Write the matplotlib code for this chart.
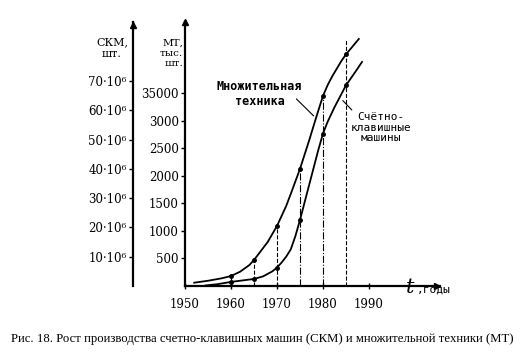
import matplotlib
matplotlib.use("Agg")
import matplotlib.pyplot as plt

# Множительная техника (МТ), тыс. шт.
mt_years = [1952, 1955, 1958, 1960, 1962, 1964, 1965, 1966, 1968, 1970, 1972, 1973,
            1975, 1977, 1978.5, 1980, 1981, 1982, 1984, 1985, 1986.5, 1987.8]
mt_values = [60, 95, 140, 181, 260, 380, 472, 580, 800, 1088, 1450, 1670,
             2122, 2640, 3050, 3446, 3640, 3800, 4080, 4200, 4350, 4480]

# Счётно-клавишные машины (СКМ), шт.
skm_years = [1954.5, 1957, 1960, 1962.5, 1965, 1967, 1969, 1970, 1971, 1972, 1973, 1974,
             1975, 1976, 1977, 1978, 1979, 1980, 1981, 1982.5, 1984, 1985, 1987, 1988.5]
skm_values = [0.2e6, 0.6e6, 1.4e6, 1.9e6, 2.4e6, 3.3e6, 5.0e6, 6.3e6, 8e6, 10e6, 12.5e6, 17e6,
              22.5e6, 28.5e6, 34.5e6, 40.5e6, 46.5e6, 52e6, 56e6, 61e6, 65.5e6, 68.5e6, 73e6, 76.5e6]

# markers every five years
mt_mark_years = [1960, 1965, 1970, 1975, 1980, 1985]
mt_mark_values = [181, 472, 1088, 2122, 3446, 4200]
skm_mark_years = [1960, 1965, 1970, 1975, 1980, 1985]
skm_mark_values = [1.4e6, 2.4e6, 6.3e6, 22.5e6, 52e6, 68.5e6]

# vertical guide lines (in МТ units)
guide_years = [1960, 1965, 1970, 1975, 1980, 1985]
guide_tops = [181, 472, 1088, 2122, 3446, 4480]
guide_styles = ["--", "--", "--", "-.", "-.", "--"]

x_ticks = [1950, 1960, 1970, 1980, 1990]
mt_ticks = [500, 1000, 1500, 2000, 2500, 3000, 3500]
mt_tick_labels = ["500", "1000", "1500", "2000", "2500", "3000", "35000"]
skm_ticks = [10e6, 20e6, 30e6, 40e6, 50e6, 60e6, 70e6]
skm_tick_labels = ["10·10⁶", "20·10⁶", "30·10⁶", "40·10⁶", "50·10⁶", "60·10⁶", "70·10⁶"]

caption = "Рис. 18. Рост производства счетно-клавишных машин (СКМ) и множительной техники (МТ)"

W, H = 524, 362
TICK_FONT = ["DejaVu Serif"]
MONO = ["DejaVu Sans Mono"]


def fx(px):
    return px / W


def fy(py):
    return 1 - py / H


fig = plt.figure(figsize=(W / 100, H / 100), dpi=100)
rect = [fx(185), fy(286), (440 - 185) / W, (286 - 22) / H]

ax = fig.add_axes(rect)
ax.set_xlim(1950.5, 1950.5 + 255 / 4.64)
ax.set_ylim(0, 264 / 0.05514)
for side in ["top", "right"]:
    ax.spines[side].set_visible(False)
ax.spines["left"].set_linewidth(1.6)
ax.spines["bottom"].set_linewidth(1.6)

ax.set_xticks(x_ticks)
ax.set_xticklabels([str(y) for y in x_ticks], family=TICK_FONT, fontsize=8.5)
ax.set_yticks(mt_ticks)
ax.set_yticklabels(mt_tick_labels, family=TICK_FONT, fontsize=8.5)
ax.tick_params(axis="x", direction="inout", length=4, width=1, pad=7)
ax.tick_params(axis="y", direction="out", length=3, width=1, pad=1.5)

ax2 = ax.twinx()
ax2.set_ylim(0, 264 / 2.929 * 1e6)
ax2.patch.set_visible(False)
for side in ["top", "right", "bottom"]:
    ax2.spines[side].set_visible(False)
ax2.spines["left"].set_visible(True)
ax2.spines["left"].set_position(("outward", 52 * 0.72))
ax2.spines["left"].set_linewidth(1.6)
ax2.yaxis.tick_left()
ax2.set_yticks(skm_ticks)
ax2.set_yticklabels(skm_tick_labels, family=TICK_FONT, fontsize=8.5)
ax2.tick_params(axis="y", direction="out", length=3, width=1, pad=1.5)

# guide lines
for yr, top, ls in zip(guide_years, guide_tops, guide_styles):
    ax.plot([yr, yr], [0, top], color="black", lw=0.8, ls=ls)

ax.plot(mt_years, mt_values, color="black", lw=1.3, solid_joinstyle="round")
ax.plot(mt_mark_years, mt_mark_values, "o", color="black", ms=2.5)
ax2.plot(skm_years, skm_values, color="black", lw=1.3, solid_joinstyle="round")
ax2.plot(skm_mark_years, skm_mark_values, "o", color="black", ms=2.5)

# labels on the curves
ax.text(1966.2, 3482, "Множительная\nтехника", family=MONO, fontsize=8.5,
        ha="center", va="center", linespacing=1.15, fontweight="bold")
ax.annotate("", xy=(1978.4, 3050), xytext=(1973.8, 3428),
            arrowprops=dict(arrowstyle="-", lw=0.8, color="black"))
ax2.text(1992.6, 54e6, "Счётно-\nклавишные\nмашины", family=MONO, fontsize=8,
         ha="center", va="center", linespacing=1.05)
ax2.annotate("", xy=(1983.9, 64e6), xytext=(1986.7, 59.4e6),
             arrowprops=dict(arrowstyle="-", lw=0.8, color="black"))

# axis arrows
fig.lines.append(plt.Line2D([fx(185)], [fy(22)], marker="^", ms=5, color="black",
                            transform=fig.transFigure))
fig.lines.append(plt.Line2D([fx(133)], [fy(25)], marker="^", ms=5, color="black",
                            transform=fig.transFigure))
fig.lines.append(plt.Line2D([fx(437)], [fy(286)], marker=">", ms=5, color="black",
                            transform=fig.transFigure))

# axis titles
fig.text(fx(112), fy(48), "СКМ,\nшт.", family=TICK_FONT, fontsize=8,
         ha="center", va="center", linespacing=1.3)
fig.text(fx(183), fy(53), "МТ,\nтыс.\nшт.", family=TICK_FONT, fontsize=7.5,
         ha="right", va="center", linespacing=1.15, multialignment="right")
fig.text(fx(406), fy(293), "t", family=TICK_FONT, fontsize=15, style="italic",
         ha="left", va="baseline")
fig.text(fx(417), fy(293), ",годы", family=MONO, fontsize=8,
         ha="left", va="baseline")

fig.text(fx(262), fy(339), caption, family=["Liberation Serif"], fontsize=9.2,
         ha="center", va="center")

fig.savefig("out.png", dpi=100)
